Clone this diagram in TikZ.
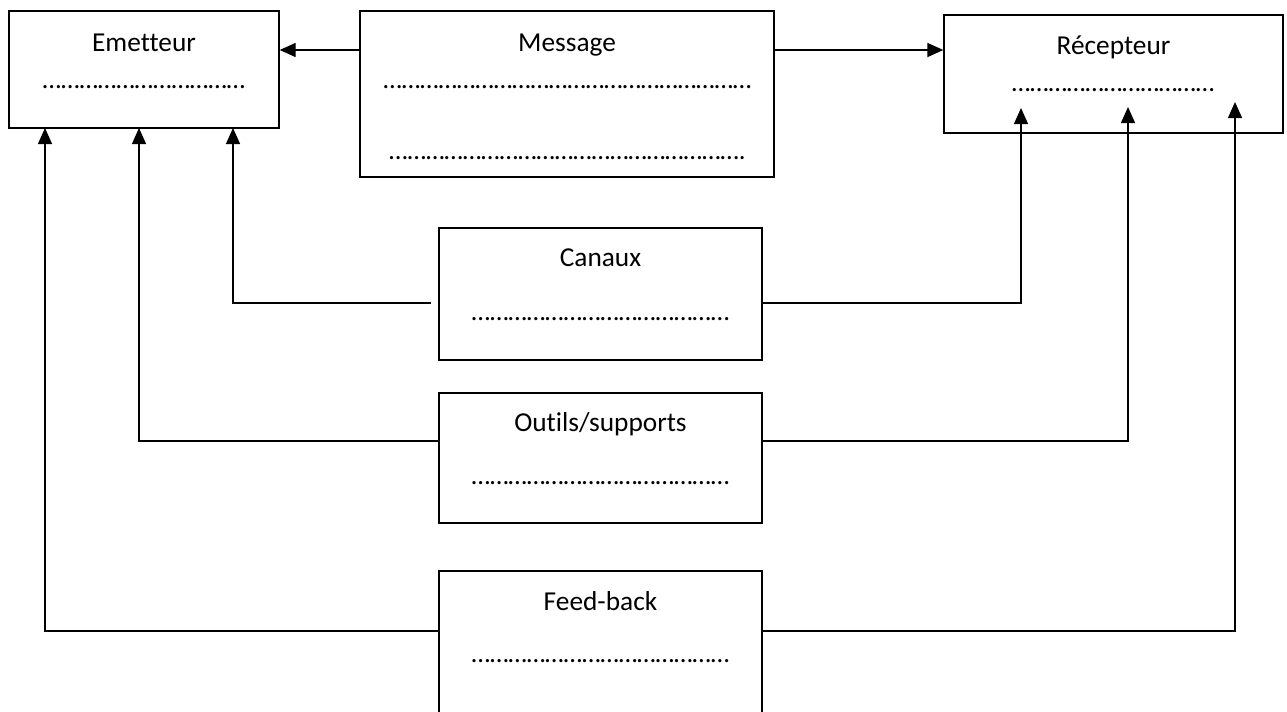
\documentclass[tikz,border=0pt]{standalone}
\usepackage{fontspec}
\setmainfont{Carlito}[Ligatures=NoCommon]
\usetikzlibrary{positioning, arrows.meta}

\begin{document}
\begin{tikzpicture}[
		x=0.75pt, y=-0.75pt,
		boite/.style={rectangle, draw, line width=1pt, inner sep=0pt},
		titre/.style={anchor=base, inner sep=0pt, font=\fontsize{20.5}{24}\selectfont},
		pointilles/.style={anchor=base, inner sep=0pt, font=\fontsize{20}{24}\selectfont},
		fleche/.style={-{Triangle[length=12pt, width=10.5pt]}, line width=1pt},
		trait/.style={line width=1pt}
	]
	\useasboundingbox (0,0) rectangle (1287,711);
	\clip (0,0) rectangle (1287,711);

	% les boites
	\node[boite, minimum width=202.5pt, minimum height=87.75pt] (em) at (144,69.5) {};
	\node[boite, minimum width=310.5pt, minimum height=124.5pt] (msg) at (567,94) {};
	\node[boite, minimum width=254.25pt, minimum height=88.5pt] (rec) at (1113.5,74) {};
	\node[boite, minimum width=242.25pt, minimum height=99pt] (can) at (600.5,294) {};
	\node[boite, minimum width=242.25pt, minimum height=97.5pt] (out) at (600.5,458) {};
	\node[boite, minimum width=242.25pt, minimum height=115.5pt] (fb) at (600.5,648) {};

	% les textes
	\node[titre] (emt) at (144,51) {Emetteur};
	\node[pointilles] (emp) at (144,88.5) {……………………………};
	\node[titre] (msgt) at (567,51) {Message};
	\node[pointilles] (msgp) at (567.5,88.5) {……………………………………………………};
	\node[pointilles] (msgq) at (567.5,159.5) {………………………………………………….};
	\node[titre] (rect) at (1113.5,54) {Récepteur};
	\node[pointilles] (recp) at (1113,91.5) {……………………………};
	\node[titre] (cant) at (600.5,266.5) {Canaux};
	\node[pointilles] (canp) at (600.5,320.5) {……………………………………};
	\node[titre] (outt) at (600.5,431.5) {Outils/supports};
	\node[pointilles] (outp) at (600.5,484.5) {……………………………………};
	\node[titre] (fbt) at (600.5,610) {Feed-back};
	\node[pointilles] (fbp) at (600.5,662) {……………………………………};

	% points des liaisons
	\coordinate (canL) at (431,303);
	\coordinate (canR) at (762,303);
	\coordinate (outL) at (439,441);
	\coordinate (outR) at (762,441);
	\coordinate (fbL) at (439,631);
	\coordinate (fbR) at (762,631);
	\coordinate (emA) at (45,128);
	\coordinate (emB) at (139,128);
	\coordinate (emC) at (233,128);
	\coordinate (recA) at (1021,108);
	\coordinate (recB) at (1128,107);
	\coordinate (recC) at (1235,102);

	\draw[fleche] (msg.west |- 0,50) -- (em.east |- 0,50);
	\draw[fleche] (msg.east |- 0,50) -- (rec.west |- 0,50);

	\foreach \i/\j in {canL/emC, outL/emB, fbL/emA, canR/recA, outR/recB, fbR/recC}
		\draw[fleche] (\i) -| (\j);

\end{tikzpicture}
\end{document}
